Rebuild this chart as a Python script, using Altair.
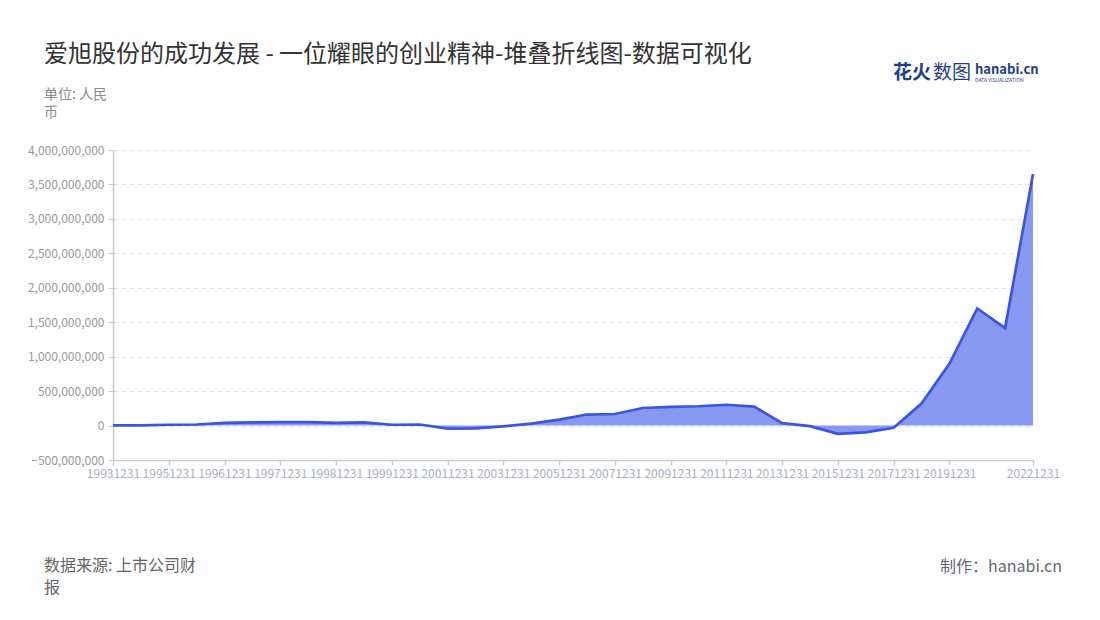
import altair as alt
import pandas as pd

dates = ["19931231", "19941231", "19951231", "19960630", "19961231", "19970630",
         "19971231", "19980630", "19981231", "19990630", "19991231", "20001231",
         "20011231", "20021231", "20031231", "20041231", "20051231", "20061231",
         "20071231", "20081231", "20091231", "20101231", "20111231", "20121231",
         "20131231", "20141231", "20151231", "20161231", "20171231", "20181231",
         "20191231", "20201231", "20211231", "20221231"]
values = [3e6, 4e6, 12e6, 15e6, 38e6, 45e6,
          50e6, 50e6, 40e6, 45e6, 12e6, 15e6,
          -45e6, -42e6, -12e6, 28e6, 85e6, 160e6,
          168e6, 255e6, 272e6, 280e6, 302e6, 276e6,
          34e6, -8e6, -120e6, -100e6, -33e6, 320e6,
          895e6, 1700e6, 1415e6, 3650e6]
tick_labels = ["19931231", "19951231", "19961231", "19971231", "19981231", "19991231",
               "20011231", "20031231", "20051231", "20071231", "20091231", "20111231",
               "20131231", "20151231", "20171231", "20191231", "20221231"]
y_ticks = [-500000000, 0, 500000000, 1000000000, 1500000000, 2000000000,
           2500000000, 3000000000, 3500000000, 4000000000]

title_text = "爱旭股份的成功发展 - 一位耀眼的创业精神-堆叠折线图-数据可视化"
unit_lines = ["单位: 人民", "币"]
source_lines = ["数据来源: 上市公司财", "报"]
maker_text = "制作：hanabi.cn"

FONT = "Noto Sans CJK SC"
df = pd.DataFrame({"date": dates, "value": values})

x_enc = alt.X("date:N", sort=dates,
              scale=alt.Scale(type="point", padding=0),
              axis=alt.Axis(values=tick_labels, title=None, labelAngle=0,
                            labelOverlap=False, labelColor="#a8afbd",
                            labelFontSize=12, labelFont=FONT,
                            domainColor="#cccccc", domainWidth=1.5,
                            tickColor="#cccccc", tickWidth=1.5,
                            tickSize=5, grid=False, labelPadding=3))
y_enc = alt.Y("value:Q",
              scale=alt.Scale(domain=[-500000000, 4000000000], nice=False, zero=True),
              axis=alt.Axis(values=y_ticks, format=",.0f", title=None,
                            labelColor="#999999", labelFontSize=12, labelFont=FONT,
                            domain=True, domainColor="#cccccc", domainWidth=1.5,
                            tickColor="#cccccc", tickWidth=1, tickSize=5, labelPadding=4,
                            grid=True, gridColor="#e0e0e0", gridDash=[4, 4]))

area = alt.Chart(df).mark_area(color="#8799f0", opacity=1).encode(x=x_enc, y=y_enc)
line = alt.Chart(df).mark_line(color="#3b54e6", strokeWidth=2.7).encode(x=x_enc, y=y_enc)

one = pd.DataFrame({"k": [0]})

def label(text, x, y, size, color, align="left", baseline="middle", weight="normal"):
    return alt.Chart(one).mark_text(
        text=text, align=align, baseline=baseline, fontSize=size, color=color,
        font=FONT, fontWeight=weight,
    ).encode(x=alt.value(x), y=alt.value(y))

# Offsets relative to the plot area origin at page (113, 150)
title = label(title_text, -69, -95, 24, "#333333")
unit1 = label(unit_lines[0], -69, -55, 14, "#8a8a8a")
unit2 = label(unit_lines[1], -69, -37, 14, "#8a8a8a")
source1 = label(source_lines[0], -69, 416, 16, "#666666")
source2 = label(source_lines[1], -69, 438, 16, "#666666")
maker = label(maker_text, 949, 417, 16, "#666672", align="right")
logo1a = label("花火", 780, -77, 19, "#1d3e8c", weight="bold")
logo1b = label("数图", 820, -77, 19, "#1d3e8c")
logo2 = label("hanabi.cn", 862, -80, 13, "#1d3e8c", weight="bold")
logo3 = label("DATA VISUALIZATION", 862, -70, 5, "#1d3e8c")

chart = alt.layer(area, line, title, unit1, unit2, source1, source2, maker,
                  logo1a, logo1b, logo2, logo3).properties(
    width=920, height=310,
    autosize=alt.AutoSizeParams(type="none"),
    padding={"left": 105, "top": 142, "right": 59, "bottom": 150},
    background="white",
).configure_view(stroke=None)

chart.save("out.html", embed_options={"renderer": "svg", "actions": False})
